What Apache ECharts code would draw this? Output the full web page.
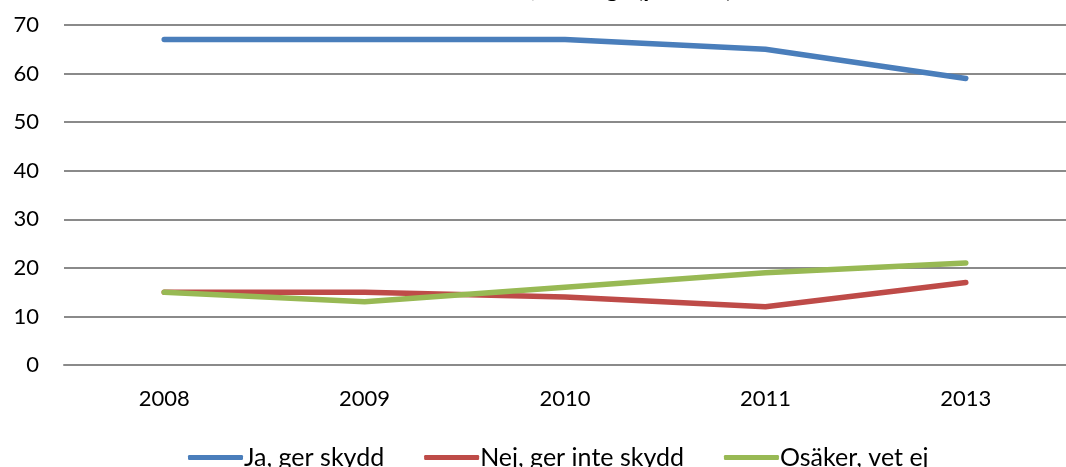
<!DOCTYPE html>
<html>
<head>
<meta charset="utf-8">
<script src="https://cdn.jsdelivr.net/npm/echarts@6/dist/echarts.min.js"></script>
<style>
  html, body { margin: 0; padding: 0; background: #fff; }
  #chart { width: 1066px; height: 467px; }
</style>
</head>
<body>
<div id="chart"></div>
<script>
// data
var years = ["2008", "2009", "2010", "2011", "2013"];
var jaGerSkydd = [67, 67, 67, 65, 59];
var nejGerInteSkydd = [15, 15, 14, 12, 17];
var osakerVetEj = [15, 13, 16, 19, 21];
var seriesNames = ["Ja, ger skydd", "Nej, ger inte skydd", "Osäker, vet ej"];
var colors = ["#4a7ebb", "#be4b48", "#98b954"];

var chart = echarts.init(document.getElementById("chart"));

var lineSeries = function (name, data, color) {
  return {
    name: name,
    type: "line",
    data: data,
    showSymbol: false,
    symbol: "none",
    lineStyle: { color: color, width: 5.5, cap: "round", join: "round" },
    itemStyle: { color: color },
  };
};

chart.setOption({
  animation: false,
  textStyle: { fontFamily: "Lato, 'Noto Sans', sans-serif" },
  // title is mostly cut off at the top in the original
  title: {
    text: "Bedömd effekt av vaccin, samtliga (procent)",
    left: 264,
    top: -28,
    textStyle: { fontSize: 24, fontWeight: "bold", color: "#000" },
  },
  grid: { left: 64, right: -12, top: 25, bottom: 102 },
  legend: {
    bottom: -8,
    left: 183,
    icon: "roundRect",
    itemWidth: 55,
    itemHeight: 5,
    itemGap: 40,
    textStyle: { fontSize: 25, color: "#000", padding: [0, 0, 0, -4] },
    data: seriesNames,
  },
  xAxis: {
    type: "category",
    data: years,
    boundaryGap: true,
    axisLine: { show: true, lineStyle: { color: "#8a8a8a", width: 2 } },
    axisTick: { show: false },
    axisLabel: { fontSize: 22, color: "#000", margin: 23 },
  },
  yAxis: {
    type: "value",
    min: 0,
    max: 70,
    interval: 10,
    axisLine: { show: false },
    axisTick: { show: false },
    axisLabel: { fontSize: 22, color: "#000", margin: 25 },
    splitLine: { lineStyle: { color: "#8a8a8a", width: 2 } },
  },
  series: [
    lineSeries(seriesNames[0], jaGerSkydd, colors[0]),
    lineSeries(seriesNames[1], nejGerInteSkydd, colors[1]),
    lineSeries(seriesNames[2], osakerVetEj, colors[2]),
  ],
});
</script>
</body>
</html>
